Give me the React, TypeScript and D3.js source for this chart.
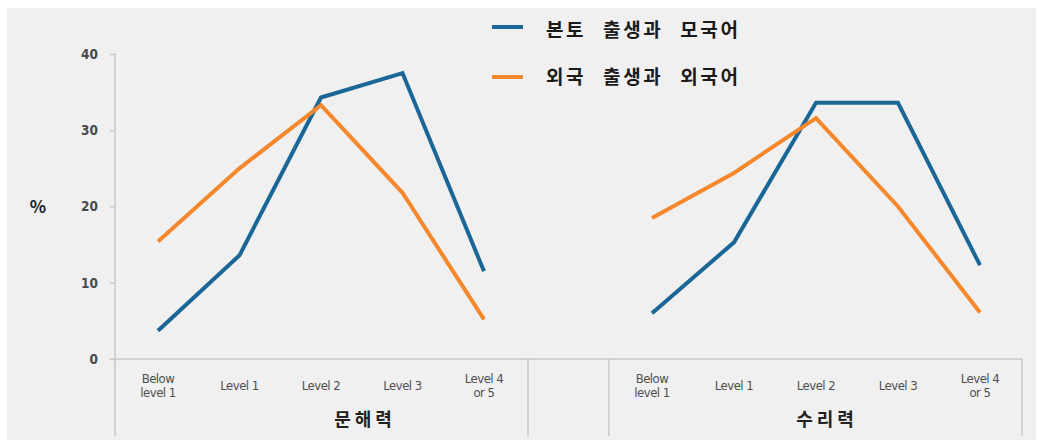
import { useEffect, useRef } from "react";
import * as d3 from "d3";

const levels = ["Below level 1", "Level 1", "Level 2", "Level 3", "Level 4 or 5"];
const levelLines = [["Below", "level 1"], ["Level 1"], ["Level 2"], ["Level 3"], ["Level 4", "or 5"]];
const yTicks = [0, 10, 20, 30, 40];

const seriesNames = ["본토 출생과 모국어", "외국 출생과 외국어"];
const panelNames = ["문해력", "수리력"];

// 문해력 (literacy)
const literacyNative = [3.7, 13.6, 34.3, 37.5, 11.5];
const literacyForeign = [15.4, 25.0, 33.3, 21.8, 5.2];
// 수리력 (numeracy)
const numeracyNative = [6.0, 15.3, 33.6, 33.6, 12.3];
const numeracyForeign = [18.5, 24.4, 31.6, 20.0, 6.1];

const colors = ["#1a6797", "#f5872c"];

export default function App() {
  const svgRef = useRef<SVGSVGElement>(null);

  useEffect(() => {
    if (!svgRef.current) return;
    const svg = d3.select(svgRef.current);
    svg.selectAll("*").remove();

    const tickFont = "'DejaVu Sans Condensed', 'Liberation Sans Narrow', 'Open Sans', sans-serif";
    const krFont = "'Noto Sans CJK KR', sans-serif";

    svg.append("rect").attr("x", 7).attr("y", 8).attr("width", 1029).attr("height", 432).attr("fill", "#f0f0f0");

    const y = d3.scaleLinear().domain([0, 40]).range([359, 54]);

    // frame lines
    const frame = svg.append("g").attr("stroke", "#c9c9c9").attr("stroke-width", 1.5);
    frame.append("line").attr("x1", 115).attr("x2", 115).attr("y1", 53).attr("y2", 436);
    frame.append("line").attr("x1", 110).attr("x2", 1022).attr("y1", y(0)).attr("y2", y(0));
    [528, 609, 1022].forEach((x) => {
      frame.append("line").attr("x1", x).attr("x2", x).attr("y1", y(0)).attr("y2", 436);
    });

    const yAxis = svg
      .append("g")
      .attr("transform", "translate(115,0)")
      .call(d3.axisLeft(y).tickValues(yTicks).tickSize(5).tickPadding(12));
    yAxis.select(".domain").remove();
    yAxis.selectAll(".tick line").attr("stroke", "#c9c9c9").attr("stroke-width", 1.5);
    yAxis
      .selectAll(".tick text")
      .attr("fill", "#4a4a4a")
      .attr("font-size", 13.5)
      .attr("font-weight", "bold")
      .attr("font-family", tickFont);

    svg
      .append("text")
      .attr("x", 38)
      .attr("y", 213)
      .attr("text-anchor", "middle")
      .attr("font-size", 17)
      .attr("font-weight", "bold")
      .attr("font-family", krFont)
      .attr("fill", "#222")
      .text("%");

    const panels = [
      { range: [158, 484], data: [literacyNative, literacyForeign], name: panelNames[0], labelX: 365 },
      { range: [652, 980], data: [numeracyNative, numeracyForeign], name: panelNames[1], labelX: 827 },
    ];

    panels.forEach((p) => {
      const x = d3.scalePoint<string>().domain(levels).range(p.range as [number, number]);
      const line = d3
        .line<number>()
        .x((_, i) => x(levels[i]) as number)
        .y((d) => y(d));

      p.data.forEach((vals, si) => {
        svg
          .append("path")
          .datum(vals)
          .attr("d", line)
          .attr("fill", "none")
          .attr("stroke", colors[si])
          .attr("stroke-width", 4);
      });

      levels.forEach((lv, i) => {
        const lines = levelLines[i];
        const t = svg
          .append("text")
          .attr("text-anchor", "middle")
          .attr("font-size", 13)
          .attr("font-family", tickFont)
          .attr("fill", "#4f4f4f")
          .attr("letter-spacing", -0.5);
        lines.forEach((s, k) => {
          t.append("tspan")
            .attr("x", x(lv) as number)
            .attr("y", lines.length === 1 ? 390 : 383 + k * 14)
            .text(s);
        });
      });

      svg
        .append("text")
        .attr("x", p.labelX)
        .attr("y", 426)
        .attr("text-anchor", "middle")
        .attr("font-size", 18)
        .attr("font-weight", "bold")
        .attr("letter-spacing", 4)
        .attr("font-family", krFont)
        .attr("fill", "#222")
        .text(p.name);
    });

    // legend
    seriesNames.forEach((name, i) => {
      const ly = i === 0 ? 27 : 77;
      svg
        .append("line")
        .attr("x1", 492)
        .attr("x2", 523)
        .attr("y1", ly)
        .attr("y2", ly)
        .attr("stroke", colors[i])
        .attr("stroke-width", 4);
      svg
        .append("text")
        .attr("x", 546)
        .attr("y", i === 0 ? 37 : 84)
        .attr("font-size", 19)
        .attr("font-weight", "bold")
        .attr("letter-spacing", 2.6)
        .attr("word-spacing", 10)
        .attr("font-family", krFont)
        .attr("fill", "#1a1a1a")
        .text(name);
    });
  }, []);

  return (
    <svg
      ref={svgRef}
      width={1043}
      height={442}
      style={{ position: "absolute", left: 0, top: 0, background: "#fff" }}
    />
  );
}
